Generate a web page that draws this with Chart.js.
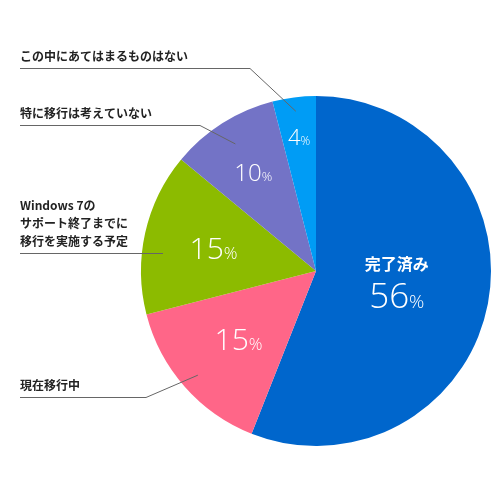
<!DOCTYPE html>
<html>
<head>
<meta charset="utf-8">
<script src="https://cdn.jsdelivr.net/npm/chart.js@4"></script>
<style>
  html, body { margin: 0; padding: 0; background: #fff; }
  #wrap { width: 500px; height: 500px; }
</style>
</head>
<body>
<div id="wrap"><canvas id="pie" width="500" height="500"></canvas></div>
<script>
// data (clockwise from 12 o'clock)
const categories = [
  '完了済み',
  '現在移行中',
  'Windows 7の\nサポート終了までに\n移行を実施する予定',
  '特に移行は考えていない',
  'この中にあてはまるものはない'
];
const shares = [56, 15, 15, 10, 4];
const sliceColors = ['#0066cc', '#ff6688', '#8cbb00', '#7373c6', '#009cf5'];

// label layout (outside callouts + inner value text)
const valueRadius = [0.47, 0.59, 0.6, 0.67, 0.77];
const valueSize = [35, 30, 30, 24, 22];
const calloutLineY = [null, 397, 253, 125, 68];
const calloutElbowX = [null, 146, 163, 200, 250];
const calloutTipRadius = [null, 0.9, null, 0.86, 0.92];

const NUM_FONT = '"Open Sans", Lato, sans-serif';
const JP_FONT = '"Noto Sans CJK JP", "Noto Sans", sans-serif';

const labelPlugin = {
  id: 'pieLabels',
  afterDatasetsDraw(chart) {
    const ctx = chart.ctx;
    const arcs = chart.getDatasetMeta(0).data;
    ctx.save();
    arcs.forEach((arc, i) => {
      const mid = (arc.startAngle + arc.endAngle) / 2;
      const R = arc.outerRadius;

      // value text
      const r = R * valueRadius[i];
      let cx = arc.x + Math.cos(mid) * r;
      let cy = arc.y + Math.sin(mid) * r;
      const big = valueSize[i];
      const small = Math.round(big * 0.55);
      ctx.fillStyle = '#fff';
      ctx.textBaseline = 'alphabetic';
      if (i === 0) {
        ctx.font = 'bold 16px ' + JP_FONT;
        ctx.textAlign = 'center';
        ctx.fillText(categories[0], cx, cy - 16);
        cy += 22;
      } else {
        cy += big * 0.36;
      }
      const num = String(shares[i]);
      ctx.font = '300 ' + big + 'px ' + NUM_FONT;
      const wNum = ctx.measureText(num).width;
      ctx.font = '300 ' + small + 'px ' + NUM_FONT;
      const wPct = ctx.measureText('%').width;
      const x0 = cx - (wNum + wPct) / 2;
      ctx.textAlign = 'left';
      ctx.font = '300 ' + big + 'px ' + NUM_FONT;
      ctx.fillText(num, x0, cy);
      ctx.font = '300 ' + small + 'px ' + NUM_FONT;
      ctx.fillText('%', x0 + wNum, cy);

      // callouts on the left
      if (calloutLineY[i] == null) return;
      const ly = calloutLineY[i];
      ctx.strokeStyle = '#666';
      ctx.lineWidth = 1;
      ctx.beginPath();
      ctx.moveTo(20, ly + 0.5);
      ctx.lineTo(calloutElbowX[i], ly + 0.5);
      if (calloutTipRadius[i] != null) {
        const tr = R * calloutTipRadius[i];
        ctx.lineTo(arc.x + Math.cos(mid) * tr, arc.y + Math.sin(mid) * tr);
      }
      ctx.stroke();

      const lines = categories[i].split('\n');
      ctx.fillStyle = '#222';
      ctx.font = 'bold 12px ' + JP_FONT;
      ctx.textAlign = 'left';
      ctx.textBaseline = 'middle';
      lines.forEach((t, k) => {
        const y = ly - 12 - (lines.length - 1 - k) * 18;
        ctx.fillText(t, 20, y);
      });
    });
    ctx.restore();
  }
};

new Chart(document.getElementById('pie'), {
  type: 'pie',
  data: {
    labels: categories,
    datasets: [{
      data: shares,
      backgroundColor: sliceColors,
      borderWidth: 0
    }]
  },
  options: {
    responsive: false,
    animation: false,
    layout: { padding: { left: 141, right: 9, top: 96, bottom: 54 } },
    plugins: {
      legend: { display: false },
      tooltip: { enabled: false }
    }
  },
  plugins: [labelPlugin]
});
</script>
</body>
</html>
